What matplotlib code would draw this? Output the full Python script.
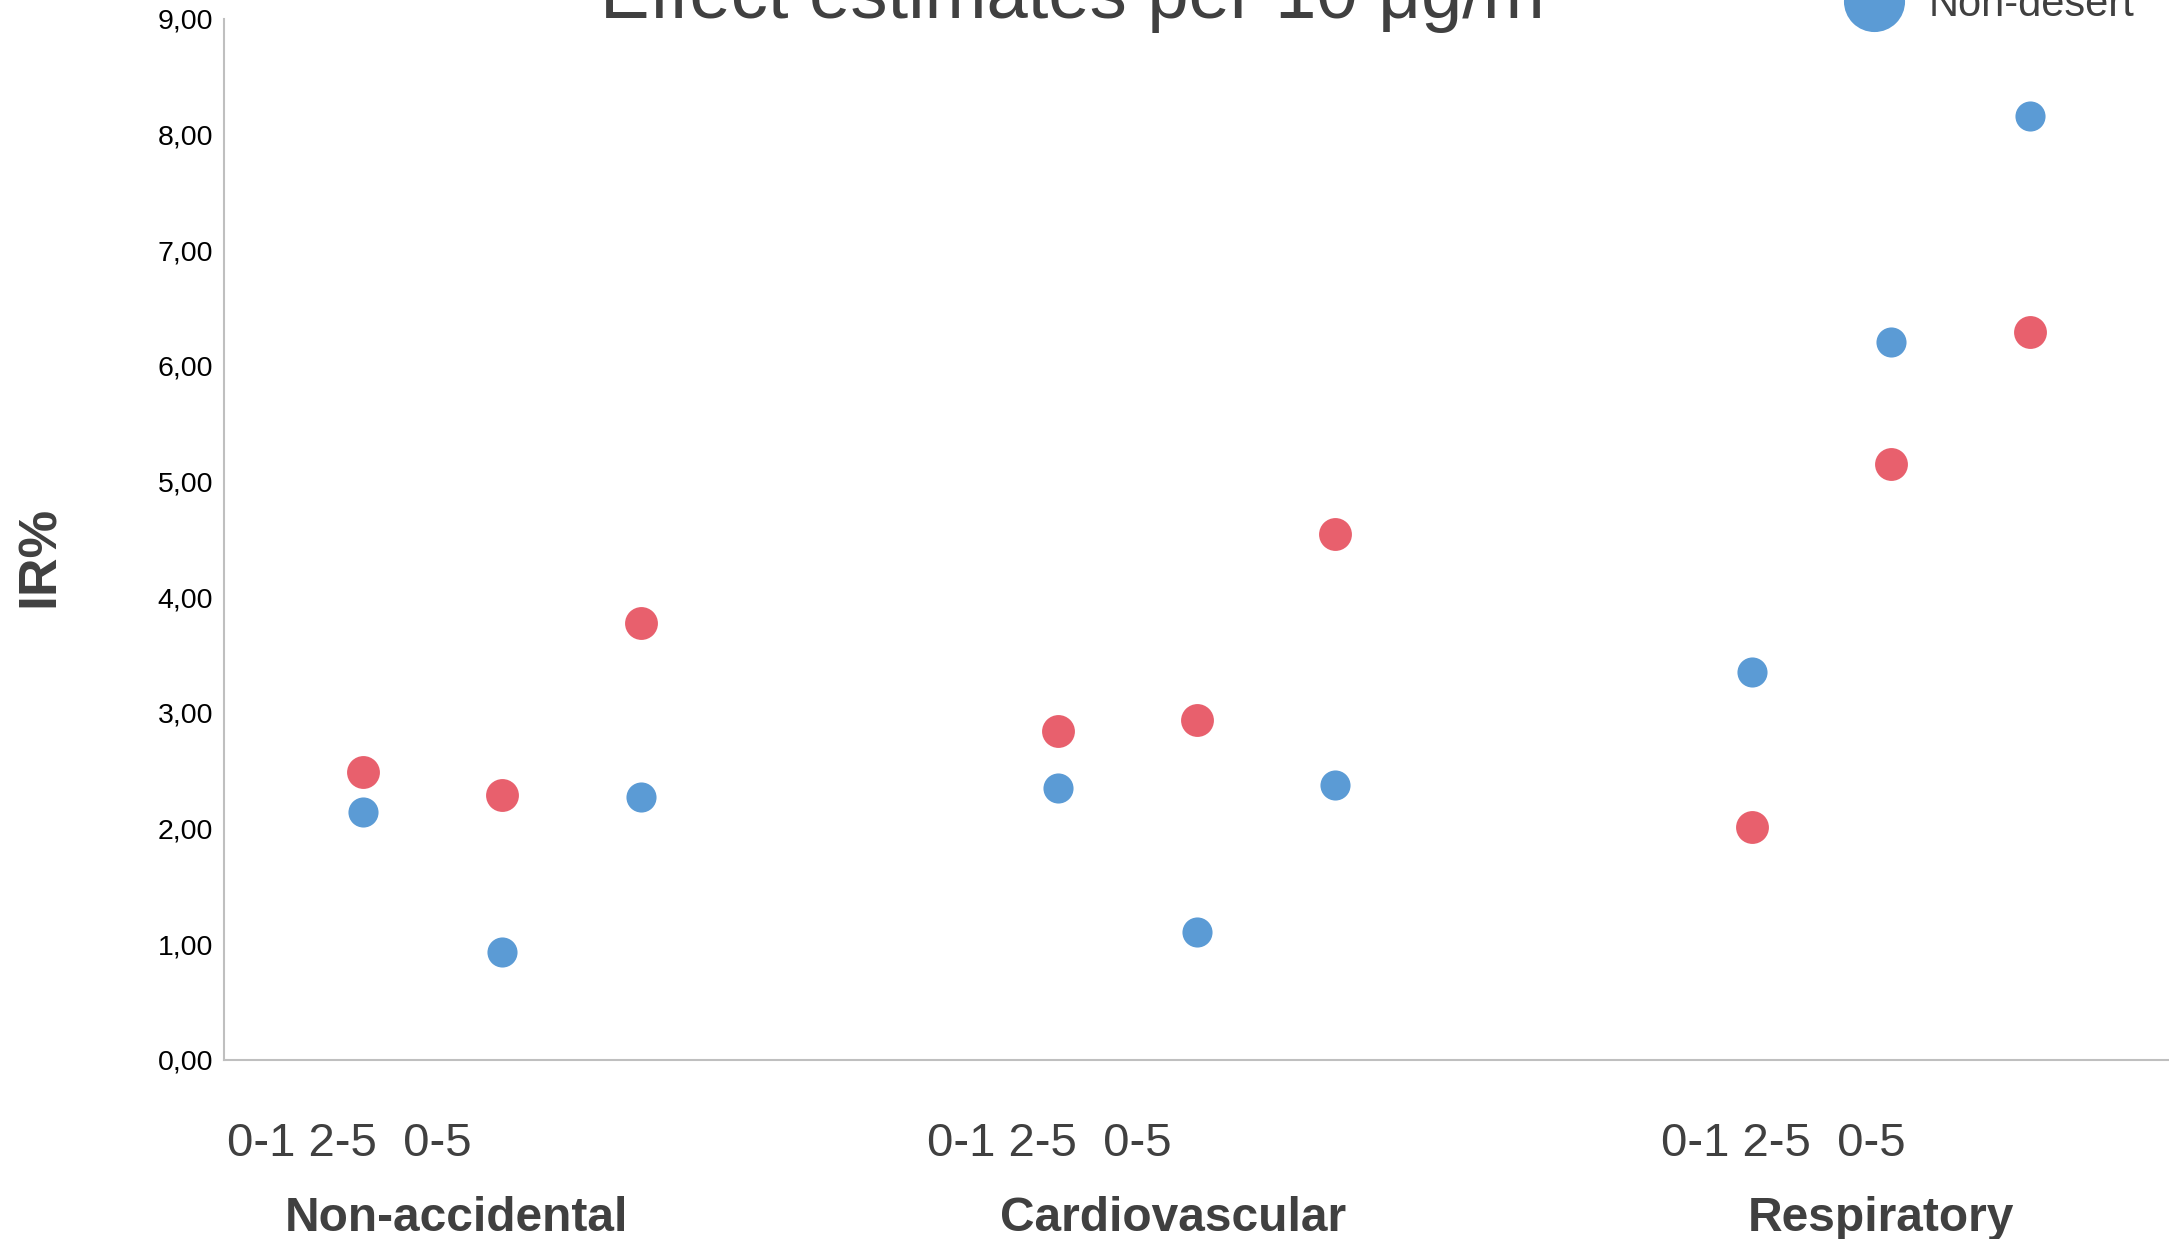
import matplotlib.pyplot as plt
from matplotlib.lines import Line2D

plt.rcParams['font.family'] = ['Liberation Sans', 'DejaVu Sans']

# x positions of the lag points (3 per outcome group)
xpos = [1, 2, 3, 6, 7, 8, 11, 12, 13]
desert = [2.49, 2.29, 3.78, 2.84, 2.94, 4.55, 2.01, 5.15, 6.29]
non_desert = [2.14, 0.93, 2.27, 2.35, 1.11, 2.38, 3.35, 6.21, 8.16]

groups = ['Non-accidental', 'Cardiovascular', 'Respiratory']
group_x = [1.67, 6.83, 11.93]
lag_text = '0-1 2-5  0-5'
lag_x = [0.02, 5.06, 10.34]
yticks = [0, 1, 2, 3, 4, 5, 6, 7, 8, 9]

red = '#E8606D'
blue = '#5B9BD5'
grey = '#404040'

fig = plt.figure(figsize=(21.69, 12.39), dpi=100)
ax = fig.add_axes([0.1033, 0.1445, 0.8967, 0.8402])

ax.scatter(xpos, desert, s=560, color=red, zorder=3, linewidths=0)
ax.scatter(xpos, non_desert, s=470, color=blue, zorder=3, linewidths=0)

ax.set_xlim(0, 14)
ax.set_ylim(0, 9)
ax.set_yticks(yticks)
ax.set_yticklabels([('%.2f' % v).replace('.', ',') for v in yticks], fontsize=20.5)
ax.yaxis.set_tick_params(length=0, pad=8)
ax.set_xticks([])

for s in ['top', 'right']:
    ax.spines[s].set_visible(False)
for s in ['left', 'bottom']:
    ax.spines[s].set_color('#BFBFBF')
    ax.spines[s].set_linewidth(1.5)

ax.set_ylabel('IR%', fontsize=38.5, fontweight='bold', color=grey)
ax.yaxis.set_label_coords(-0.082, 0.484)

for x in lag_x:
    ax.text(x, -0.73, lag_text, fontsize=34, color=grey, ha='left', va='center')
for x, g in zip(group_x, groups):
    ax.text(x, -1.37, g, fontsize=34.5, fontweight='bold', color=grey, ha='center', va='center')

fig.text(0.5, 0.9855, 'Effect estimates per 10 μg/m³', fontsize=53.5, color=grey,
         ha='center', va='baseline')

handles = [Line2D([], [], marker='o', linestyle='', markersize=44, color=red, markeredgewidth=0),
           Line2D([], [], marker='o', linestyle='', markersize=44, color=blue, markeredgewidth=0)]
fig.legend(handles, ['Desert', 'Non-desert'], loc='lower left', bbox_to_anchor=(0.845, 0.98),
           frameon=False, fontsize=30, labelcolor=grey, handletextpad=0.3,
           borderaxespad=0, borderpad=0)

fig.savefig('out.png', dpi=100)
